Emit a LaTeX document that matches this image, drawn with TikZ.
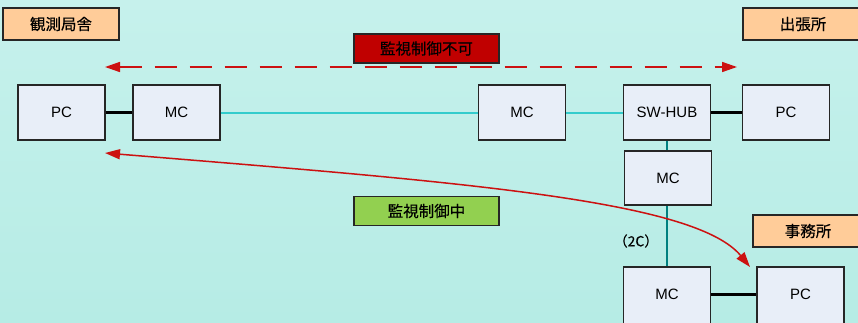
\documentclass[tikz,border=0pt]{standalone}
\usepackage{fontspec}
\setmainfont{Liberation Sans}
\newfontfamily\jp[FakeBold=0.3]{Noto Sans CJK JP}
\usetikzlibrary{arrows.meta}
\definecolor{bgtop}{HTML}{C6F1EC}
\definecolor{bgbot}{HTML}{B6ECE5}
\definecolor{boxfill}{HTML}{E8EEF8}
\definecolor{lblfill}{HTML}{FFCC99}
\definecolor{ngred}{HTML}{C00000}
\definecolor{okgreen}{HTML}{92D050}
\definecolor{arrred}{HTML}{CC1111}
\definecolor{cyanline}{HTML}{33CCCC}
\definecolor{tealline}{HTML}{008080}
\tikzset{
  devbox/.style={draw=black!85, line width=1.4pt, fill=boxfill, minimum width=87pt, minimum height=55pt, inner sep=0pt, font=\fontsize{15}{17}\selectfont},
  sitelbl/.style={draw=black!85, line width=1.3pt, fill=lblfill, minimum height=32pt, inner sep=0pt, font=\jp\fontsize{15.5}{18}\selectfont},
  statlbl/.style={draw=black!85, line width=1.3pt, minimum width=145pt, minimum height=29pt, inner sep=0pt, font=\jp\fontsize{15.5}{18}\selectfont},
  blackwire/.style={black, line width=2.4pt},
  cyanwire/.style={cyanline, line width=2pt},
  tealwire/.style={tealline, line width=2.2pt},
  redarrow/.style={arrred, line width=1.5pt, {Triangle[length=15pt,width=10pt]}-{Triangle[length=15pt,width=10pt]}},
}
\begin{document}
\begin{tikzpicture}[x=1pt,y=-1pt]
\useasboundingbox (0,0) rectangle (858,322);
\shade[top color=bgtop, bottom color=bgbot] (0,0) rectangle (858,322);
\clip (0,0) rectangle (858,322);

% site labels
\node[sitelbl, minimum width=116pt] (kansoku) at (61,24) {観測局舎};
\node[sitelbl, minimum width=120pt] (shutcho) at (803,24) {出張所};
\node[sitelbl, minimum width=110pt] (jimusho) at (808,231) {事務所};

% status labels
\node[statlbl, fill=ngred] (fuka) at (426.5,48.5) {監視制御不可};
\node[statlbl, fill=okgreen] (chu) at (426.5,211) {監視制御中};

% devices
\node[devbox] (pcl) at (61.5,112.5) {PC};
\node[devbox] (mcl) at (176.5,112.5) {MC};
\node[devbox] (mcm) at (522,112.5) {MC};
\node[devbox] (hub) at (667,112.5) {SW-HUB};
\node[devbox] (pcr) at (786,112.5) {PC};
\node[devbox, minimum height=54pt] (mc2) at (668,178) {MC};
\node[devbox, minimum height=60pt] (mc3) at (667,297) {};
\node[font=\fontsize{15}{17}\selectfont] (mc3t) at (667,294.5) {MC};
\node[devbox, minimum height=60pt] (pcb) at (800.5,297) {};
\node[font=\fontsize{15}{17}\selectfont] (pcbt) at (800.5,294.5) {PC};

\node[font=\jp\fontsize{14}{16}\selectfont] (twoc) at (636,241) {（2C）};

% wires
\draw[blackwire] (pcl.east) -- (mcl.west);
\draw[cyanwire] (mcl.east) -- (mcm.west);
\draw[cyanwire] (mcm.east) -- (hub.west);
\draw[blackwire] (hub.east) -- (pcr.west);
\draw[tealwire] (hub.south) -- (hub.south |- mc2.north);
\draw[tealwire] (mc2.south -| mc3.north) -- (mc3.north);
\draw[blackwire] (mc3.east |- mc3t) -- (pcb.west |- pcbt);

% arrows
\coordinate (dl) at (105,67);
\coordinate (dr) at (737,67);
\draw[redarrow, dash pattern=on 22pt off 13pt] (dl) -- (dr);

\coordinate (cl) at (105,153);
\coordinate (cr) at (750,267);
\draw[redarrow] (cl) .. controls (460,182) and (695,200) .. (cr);
\end{tikzpicture}
\end{document}
